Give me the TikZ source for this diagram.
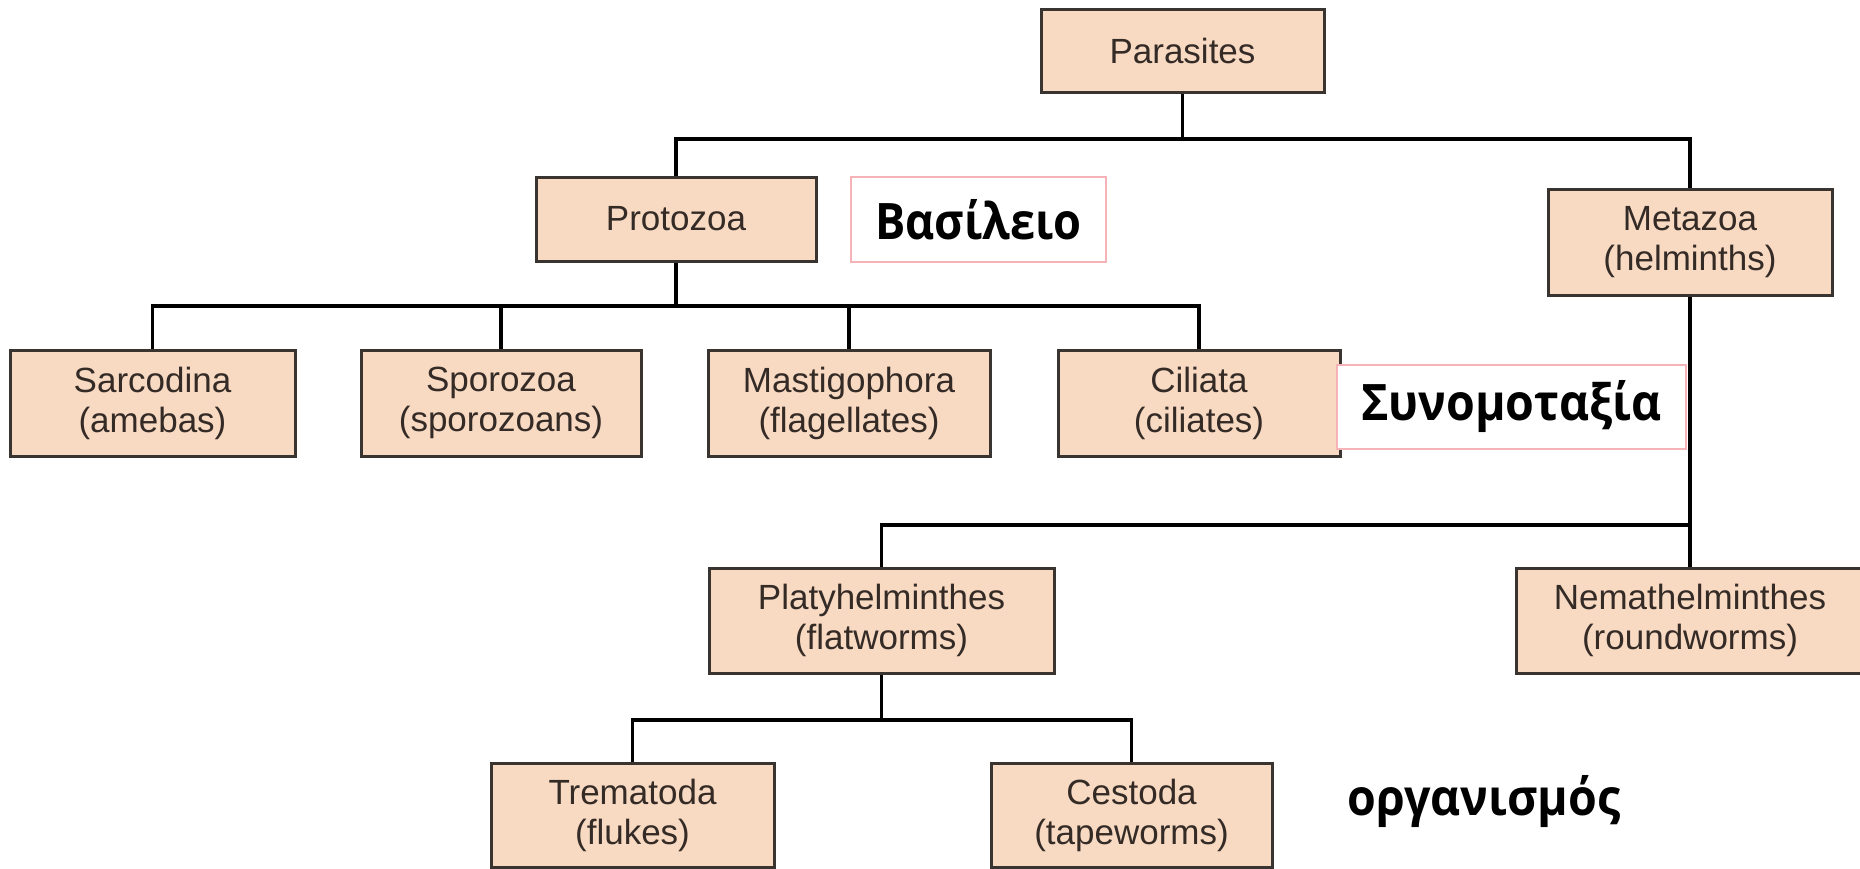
\documentclass[tikz,border=0pt]{standalone}
\usepackage{graphicx}
\usepackage{fontspec}
\newfontfamily\labfont{Liberation Sans}
\newfontfamily\grkfont{Open Sans}
\definecolor{peach}{HTML}{F8DAC3}
\definecolor{boxline}{HTML}{3A3430}
\definecolor{labtext}{HTML}{352B26}
\definecolor{pinkline}{HTML}{F5B3B8}
\tikzset{
  pbox/.style={draw=boxline, line width=3pt, fill=peach, inner sep=0pt,
    align=center, text=labtext, font=\labfont\fontsize{35}{40}\selectfont},
  gbox/.style={draw=pinkline, line width=1.5pt, fill=white, inner sep=0pt,
    text=black, font=\grkfont\bfseries\fontsize{47}{52}\selectfont},
  gtext/.style={inner sep=0pt, text=black, font=\grkfont\bfseries\fontsize{47}{52}\selectfont},
  conn/.style={draw=black, line width=3.8pt}
}
\begin{document}
\begin{tikzpicture}[x=1pt,y=-1pt]
\useasboundingbox[fill=white] (0,0) rectangle (1860,868);
% bus levels
\coordinate (b1) at (0,139);
\coordinate (b2) at (0,306);
\coordinate (b3) at (0,525);
\coordinate (b4) at (0,720);
% nodes
\node[pbox, minimum width=283, minimum height=83] (par) at (1182.5,50.5) {Parasites};
\node[pbox, minimum width=280, minimum height=84] (pro) at (676,219) {Protozoa};
\node[pbox, minimum width=284, minimum height=106] (met) at (1690,242) {Metazoa\\(helminths)};
\node[pbox, minimum width=285, minimum height=106] (sar) at (152.5,403) {Sarcodina\\(amebas)};
\node[pbox, minimum width=280, minimum height=106] (spo) at (501,403) {Sporozoa\\(sporozoans)};
\node[pbox, minimum width=282, minimum height=106] (mas) at (849,403) {Mastigophora\\(flagellates)};
\node[pbox, minimum width=282, minimum height=106] (cil) at (1199,403) {Ciliata\\(ciliates)};
\node[pbox, minimum width=345, minimum height=105] (pla) at (881.5,620.5) {Platyhelminthes\\(flatworms)};
\node[pbox, minimum width=348, minimum height=105] (nem) at (1690,620.5) {Nemathelminthes\\(roundworms)};
\node[pbox, minimum width=283, minimum height=104] (tre) at (632.5,815) {Trematoda\\(flukes)};
\node[pbox, minimum width=281, minimum height=104] (ces) at (1131.5,815) {Cestoda\\(tapeworms)};
% greek labels
\node[gbox, minimum width=255, minimum height=85] (bas) at (978.5,219.5) {\scalebox{0.96}[1.07]{Βασίλειο}};
\node[gbox, minimum width=349, minimum height=84] (syn) at (1511.5,407) {\scalebox{0.99}[1.07]{Συνομοταξία}};
\node[gtext, anchor=base] (org) at (1484,815) {\scalebox{0.99}[1.07]{οργανισμός}};
% connectors
\draw[conn] (par.south) -- (par.south |- b1);
\draw[conn] (pro.north) |- (b1 -| met.north) -- (met.north);
\draw[conn] (pro.south) -- (pro.south |- b2);
\draw[conn] (sar.north) |- (b2 -| cil.north) -- (cil.north);
\draw[conn] (spo.north) -- (spo.north |- b2);
\draw[conn] (mas.north) -- (mas.north |- b2);
\draw[conn] (met.south) -- (nem.north);
\draw[conn] (pla.north) |- (b3 -| met.south);
\draw[conn] (pla.south) -- (pla.south |- b4);
\draw[conn] (tre.north) |- (b4 -| ces.north) -- (ces.north);
\end{tikzpicture}
\end{document}
